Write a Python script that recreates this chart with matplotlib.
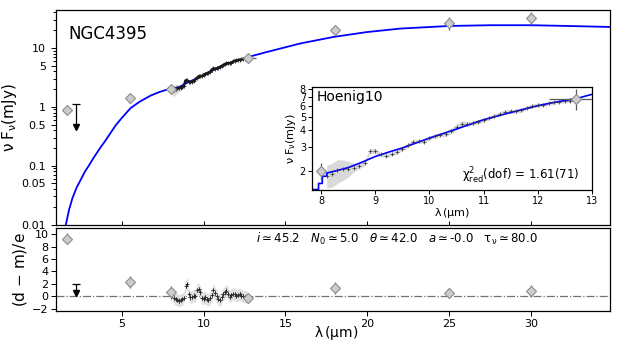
import numpy as np
import matplotlib
matplotlib.use('Agg')
import matplotlib.pyplot as plt
from matplotlib.ticker import FixedLocator, NullFormatter, NullLocator

plt.rcParams['mathtext.default'] = 'regular'

# photometry (wavelength um, nuFnu mJy)
phot_wave = [1.65, 5.5, 8.0, 12.7, 18.0, 25.0, 30.0]
phot_flux = [0.87, 1.43, 2.0, 6.8, 20.5, 26.5, 32.2]
phot_yerr = [0.04, 0.25, 0.28, 1.2, 4.0, 6.5, 8.5]
phot_xerr = [0.0, 0.0, 0.08, 0.5, 0.0, 0.0, 0.0]
phot_resid = [9.3, 2.3, 0.6, -0.3, 1.3, 0.5, 0.8]
phot_resid_err = [0.9, 0.9, 1.0, 0.4, 1.0, 0.8, 1.0]

# upper limit
ul_wave = 2.2
ul_top = 1.1
ul_bottom = 0.45
ul_resid_top = 1.94
ul_resid_bottom = 0.5

# spectrum (Hoenig10)
spec_wave = [8.1, 8.2, 8.3, 8.4, 8.5, 8.6, 8.7, 8.8, 8.9, 9.0, 9.1, 9.2, 9.3, 9.4, 9.5, 9.6,
             9.7, 9.8, 9.9, 10.0, 10.1, 10.2, 10.3, 10.4, 10.5, 10.6, 10.7, 10.8, 10.9, 11.0,
             11.1, 11.2, 11.3, 11.4, 11.5, 11.6, 11.7, 11.8, 11.9, 12.0, 12.1, 12.2, 12.3,
             12.4, 12.5, 12.6, 12.7]
spec_flux = [1.85, 1.90, 2.02, 2.06, 2.08, 2.12, 2.18, 2.28, 2.80, 2.82, 2.65, 2.60, 2.66,
             2.78, 2.92, 3.10, 3.30, 3.32, 3.30, 3.52, 3.62, 3.70, 3.75, 3.95, 4.25, 4.48,
             4.45, 4.50, 4.62, 4.75, 4.95, 5.12, 5.30, 5.48, 5.52, 5.50, 5.62, 5.88, 6.05,
             6.12, 6.18, 6.32, 6.42, 6.50, 6.55, 6.62, 6.72]
spec_err = [0.35, 0.38, 0.4, 0.35, 0.28, 0.15, 0.1, 0.1, 0.12, 0.12, 0.08, 0.08, 0.08,
            0.1, 0.1, 0.12, 0.12, 0.1, 0.1, 0.12, 0.12, 0.12, 0.15, 0.18, 0.22, 0.22,
            0.18, 0.15, 0.15, 0.15, 0.15, 0.15, 0.18, 0.18, 0.18, 0.18, 0.18, 0.2, 0.2,
            0.2, 0.2, 0.2, 0.2, 0.2, 0.2, 0.2, 0.2]
spec_resid = [0.2, -0.3, -0.5, -0.6, -0.7, -0.6, -0.5, -0.3, 1.6, 2.0, 0.3, -0.2, -0.1,
              0.1, 0.0, 1.0, 1.2, 0.6, -0.3, -0.4, -0.2, -0.5, -0.6, -0.3, 0.2, 1.0, 0.5,
              0.0, -0.5, -0.6, -0.2, 0.3, 0.6, 0.9, 0.4, -0.1, 0.2, 0.4, 0.3, 0.1, 0.2, 0.3,
              0.1, 0.0, -0.1, -0.2, -0.1]

# model SED (main panel)
model_wave = [1.6, 1.8, 2.0, 2.25, 2.54, 2.75, 3.0, 3.3, 3.61, 4.0, 4.3, 4.63, 5.0, 5.55,
              6.1, 6.77, 7.3, 7.88, 8.5, 9.0, 9.57, 10.07, 10.81, 11.43, 12.04, 12.66, 13.0,
              13.88, 15.9, 17.95, 19.98, 22.0, 25.0, 27.5, 30.0, 32.2, 34.8]
model_flux = [0.01, 0.018, 0.028, 0.042, 0.06, 0.078, 0.1, 0.137, 0.185, 0.263, 0.35, 0.48,
              0.64, 0.95, 1.22, 1.55, 1.78, 2.0, 2.15, 2.56, 3.02, 3.55, 4.49, 5.32, 6.12,
              6.79, 7.35, 8.55, 11.9, 15.4, 18.6, 21.3, 23.6, 24.3, 24.3, 23.6, 22.7]

# model in the inset (steps at the short end)
inset_model_wave = [7.85, 7.95, 7.95, 8.02, 8.02, 8.1, 8.1, 8.3, 8.5, 8.75, 9.0, 9.25, 9.5,
                    9.75, 10.0, 10.25, 10.5, 10.75, 11.0, 11.25, 11.5, 11.75, 12.0, 12.25,
                    12.5, 12.75, 13.0]
inset_model_flux = [1.46, 1.46, 1.62, 1.62, 1.83, 1.83, 1.93, 2.02, 2.12, 2.32, 2.56, 2.76,
                    2.96, 3.22, 3.5, 3.78, 4.08, 4.42, 4.78, 5.08, 5.4, 5.72, 6.06, 6.35,
                    6.62, 6.9, 7.35]

fig = plt.figure(figsize=(6.23, 3.46), dpi=100)
ax = fig.add_axes([0.0899, 0.351, 0.8893, 0.620])
axr = fig.add_axes([0.0899, 0.101, 0.8893, 0.240], sharex=ax)
axi = fig.add_axes([0.500, 0.451, 0.450, 0.298])

spec_lo = np.array(spec_flux) - np.array(spec_err)
spec_hi = np.array(spec_flux) + np.array(spec_err)

# ---- main panel
ax.plot(model_wave, model_flux, color='blue', lw=1.3, zorder=2)
ax.fill_between(spec_wave, spec_lo, spec_hi, color='0.85', lw=0, zorder=1)
ax.plot(spec_wave, spec_flux, color='0.1', lw=1.8, zorder=3)
ax.plot(spec_wave, spec_flux, '+', color='0.1', ms=3, mew=0.6, zorder=3)
ax.errorbar(phot_wave, phot_flux, yerr=phot_yerr, xerr=phot_xerr, fmt='D', ms=5,
            mfc='0.8', mec='0.55', mew=0.8, ecolor='0.35', elinewidth=0.9, capsize=0, zorder=4)
ax.vlines(ul_wave, ul_bottom, ul_top, color='k', lw=0.9)
ax.plot([ul_wave], [ul_top], marker='_', color='k', ms=6, mew=0.9)
ax.plot([ul_wave], [ul_bottom], marker='v', color='k', ms=4.5)

ax.set_yscale('log')
ax.set_xlim(1.0, 34.8)
ax.set_ylim(0.01, 44)
ax.yaxis.set_major_locator(FixedLocator([0.01, 0.05, 0.1, 0.5, 1, 5, 10]))
ax.set_yticklabels(['0.01', '0.05', '0.1', '0.5', '1', '5', '10'])
ax.yaxis.set_minor_formatter(NullFormatter())
ax.tick_params(axis='y', which='both', direction='out', labelsize=8, length=3.5, width=0.7)
ax.tick_params(axis='y', which='minor', length=2)
ax.tick_params(axis='x', direction='in', length=3, width=0.7, labelbottom=False)
ax.set_ylabel(r'$\nu\;F_\nu(mJy)$', fontsize=11, labelpad=2)
ax.text(0.022, 0.93, 'NGC4395', transform=ax.transAxes, fontsize=12, va='top', ha='left')

# ---- residual panel
axr.axhline(0, color='0.45', ls='-.', lw=0.9, zorder=1)
axr.fill_between(spec_wave, np.array(spec_resid) - 1.0, np.array(spec_resid) + 1.0,
                 color='0.88', lw=0, zorder=1)
axr.errorbar(spec_wave, spec_resid, yerr=0.35, fmt='+', color='0.15', ms=3, mew=0.6,
             elinewidth=0.5, capsize=0, zorder=3)
axr.errorbar(phot_wave, phot_resid, yerr=phot_resid_err, fmt='D', ms=5, mfc='0.8',
             mec='0.55', mew=0.8, ecolor='0.35', elinewidth=0.9, capsize=0, zorder=4)
axr.vlines(ul_wave, ul_resid_bottom, ul_resid_top, color='k', lw=0.9)
axr.plot([ul_wave], [ul_resid_top], marker='_', color='k', ms=6, mew=0.9)
axr.plot([ul_wave], [ul_resid_bottom], marker='v', color='k', ms=4.5)
axr.set_ylim(-2.4, 11)
axr.set_yticks([-2, 0, 2, 4, 6, 8, 10])
axr.set_xticks([5, 10, 15, 20, 25, 30])
axr.tick_params(axis='both', direction='out', labelsize=8, length=3.5, width=0.7, pad=2)
axr.set_ylabel('(d $-$ m)/e', fontsize=11, labelpad=2)
axr.set_xlabel(r'$\lambda\,(\mu m)$', fontsize=10)
axr.xaxis.set_label_coords(0.505, -0.15)
axr.text(0.87, 0.96, r'$\mathit{i}\simeq45.2$   $\mathit{N_0}\simeq5.0$   $\mathit{\theta}\simeq42.0$'
         r'   $\mathit{a}\simeq$-0.0   $\tau_\nu\simeq80.0$',
         transform=axr.transAxes, fontsize=8.5, ha='right', va='top')

# ---- inset
axi.fill_between(spec_wave, spec_lo, spec_hi, color='0.85', lw=0, zorder=1)
axi.errorbar(spec_wave, spec_flux, yerr=0.04, fmt='+', color='0.2', ms=3, mew=0.5,
             elinewidth=0.4, capsize=0, zorder=3)
axi.plot(inset_model_wave, inset_model_flux, color='blue', lw=1.2, zorder=2)
axi.errorbar(phot_wave, phot_flux, yerr=phot_yerr, xerr=phot_xerr, fmt='D', ms=5,
             mfc='0.8', mec='0.55', mew=0.8, ecolor='0.35', elinewidth=0.9, capsize=0, zorder=4)
axi.set_yscale('log')
axi.set_xlim(7.82, 13.0)
axi.set_ylim(1.45, 8.35)
axi.yaxis.set_major_locator(FixedLocator([2, 3, 4, 5, 6, 7, 8]))
axi.set_yticklabels(['2', '3', '4', '5', '6', '7', '8'])
axi.yaxis.set_minor_locator(NullLocator())
axi.set_xticks([8, 9, 10, 11, 12, 13])
axi.tick_params(axis='both', direction='out', labelsize=7, length=3, width=0.7, pad=1)
axi.set_ylabel(r'$\nu\;F_\nu(mJy)$', fontsize=8, labelpad=1)
axi.set_xlabel(r'$\lambda\,(\mu m)$', fontsize=8, labelpad=0)
axi.text(0.02, 0.965, 'Hoenig10', transform=axi.transAxes, fontsize=10, va='top', ha='left')
axi.text(0.955, 0.1, r'$\chi^2_{red}$(dof) = 1.61(71)', transform=axi.transAxes,
         fontsize=8.5, ha='right', va='baseline')

for a in (ax, axr, axi):
    for s in a.spines.values():
        s.set_linewidth(0.9)

fig.savefig('out.png', dpi=100)
